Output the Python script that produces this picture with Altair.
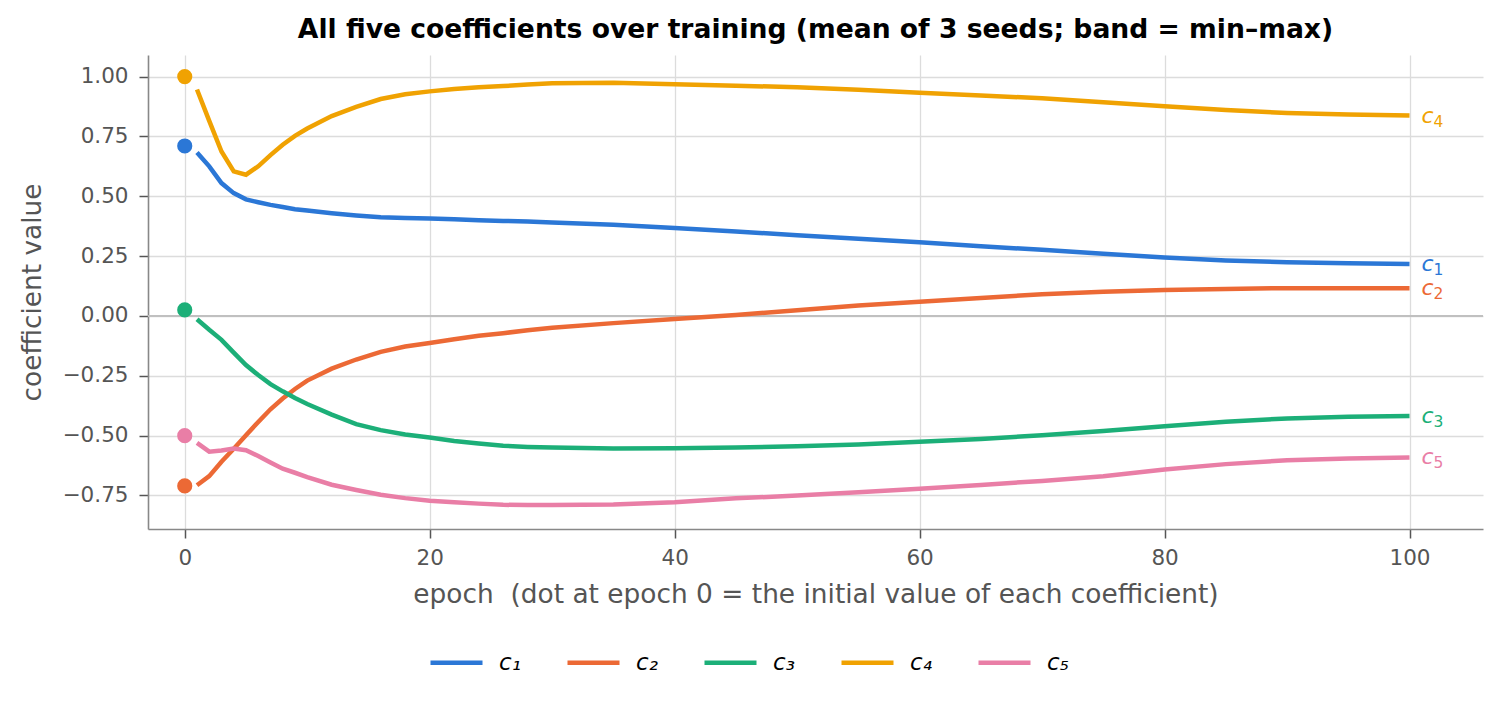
import altair as alt
import pandas as pd

# ---- data ----
SERIES = ["c₁", "c₂", "c₃", "c₄", "c₅"]
SUBS = ["1", "2", "3", "4", "5"]
COLORS = ["#2b77d6", "#ec6935", "#1caf78", "#f0a202", "#e97ea6"]

EPOCHS = [1, 2, 3, 4, 5, 6, 7, 8, 9, 10, 12, 14, 16, 18, 20, 22, 24, 26, 28, 30,
          35, 40, 45, 50, 55, 60, 65, 70, 75, 80, 85, 90, 95, 100]

C1 = [0.683, 0.625, 0.555, 0.513, 0.487, 0.475, 0.464, 0.455, 0.446, 0.440,
      0.429, 0.420, 0.412, 0.409, 0.407, 0.404, 0.400, 0.397, 0.394, 0.390,
      0.381, 0.367, 0.353, 0.337, 0.322, 0.308, 0.291, 0.276, 0.260, 0.244,
      0.232, 0.224, 0.220, 0.217]
C2 = [-0.707, -0.669, -0.609, -0.555, -0.498, -0.443, -0.390, -0.345, -0.305, -0.270,
      -0.220, -0.182, -0.150, -0.128, -0.113, -0.097, -0.083, -0.072, -0.060, -0.049,
      -0.030, -0.013, 0.004, 0.024, 0.044, 0.059, 0.075, 0.091, 0.101, 0.108,
      0.113, 0.116, 0.116, 0.116]
C3 = [-0.014, -0.058, -0.100, -0.153, -0.205, -0.247, -0.285, -0.315, -0.343, -0.368,
      -0.412, -0.452, -0.477, -0.495, -0.508, -0.522, -0.533, -0.542, -0.547, -0.550,
      -0.554, -0.553, -0.550, -0.544, -0.537, -0.526, -0.514, -0.498, -0.481, -0.461,
      -0.442, -0.428, -0.421, -0.418]
C4 = [0.946, 0.815, 0.687, 0.604, 0.590, 0.625, 0.672, 0.715, 0.752, 0.783,
      0.835, 0.873, 0.906, 0.926, 0.938, 0.948, 0.955, 0.960, 0.967, 0.972,
      0.974, 0.968, 0.962, 0.955, 0.945, 0.932, 0.921, 0.909, 0.893, 0.876,
      0.860, 0.848, 0.841, 0.837]
C5 = [-0.530, -0.567, -0.562, -0.554, -0.561, -0.585, -0.612, -0.638, -0.655, -0.673,
      -0.705, -0.727, -0.747, -0.761, -0.772, -0.778, -0.784, -0.789, -0.790, -0.790,
      -0.788, -0.778, -0.762, -0.750, -0.736, -0.722, -0.706, -0.689, -0.670, -0.641,
      -0.619, -0.603, -0.595, -0.591]
INITIAL = [0.71, -0.71, 0.025, 1.00, -0.50]

X_TICKS = [0, 20, 40, 60, 80, 100]
Y_TICKS = [-0.75, -0.5, -0.25, 0.0, 0.25, 0.5, 0.75, 1.0]

# ---- tables ----
rows = []
for name, vals in zip(SERIES, [C1, C2, C3, C4, C5]):
    for e, v in zip(EPOCHS, vals):
        rows.append({"series": name, "epoch": e, "value": v})
lines_df = pd.DataFrame(rows)
init_df = pd.DataFrame({"series": SERIES, "epoch": [0] * 5, "value": INITIAL})
end_df = lines_df[lines_df["epoch"] == EPOCHS[-1]].copy().reset_index(drop=True)
end_df["sub"] = SUBS
end_df["c"] = "c"
zero_df = pd.DataFrame({"value": [0.0]})

FONT = "DejaVu Sans"
X_DOMAIN = [-3, 106]
Y_DOMAIN = [-0.89, 1.09]

x_enc = alt.X("epoch:Q",
              scale=alt.Scale(domain=X_DOMAIN, nice=False, zero=False),
              axis=alt.Axis(values=X_TICKS, format="d",
                            title="epoch \u00a0(dot at epoch 0 = the initial value of each coefficient)"))
y_enc = alt.Y("value:Q",
              scale=alt.Scale(domain=Y_DOMAIN, nice=False, zero=False),
              axis=alt.Axis(values=Y_TICKS, format=".2f", title="coefficient value"))
color_scale = alt.Scale(domain=SERIES, range=COLORS)

zero = alt.Chart(zero_df).mark_rule(color="#c0c0c0", strokeWidth=2).encode(
    y=alt.Y("value:Q", scale=alt.Scale(domain=Y_DOMAIN, nice=False, zero=False))
)

lines = alt.Chart(lines_df).mark_line(strokeWidth=4.5).encode(
    x=x_enc, y=y_enc,
    color=alt.Color("series:N", scale=color_scale,
                    legend=alt.Legend(title=None, orient="none", direction="horizontal",
                                      columns=5, legendX=280, legendY=579,
                                      symbolType="stroke", symbolSize=2704,
                                      symbolStrokeWidth=4.5, labelOffset=14,
                                      columnPadding=37, labelFontSize=23,
                                      labelFontStyle="italic", labelColor="#000000",
                                      labelFont=FONT, labelLimit=0)),
)

dots = alt.Chart(init_df).mark_circle(size=230, opacity=1).encode(
    x="epoch:Q", y="value:Q",
    color=alt.Color("series:N", scale=color_scale, legend=None),
)

label_c = alt.Chart(end_df).mark_text(align="left", baseline="middle", dx=12, dy=0,
                                      fontSize=22, fontStyle="italic", font=FONT).encode(
    x="epoch:Q", y="value:Q", text="c:N",
    color=alt.Color("series:N", scale=color_scale, legend=None),
)
label_sub = alt.Chart(end_df).mark_text(align="left", baseline="middle", dx=24, dy=6,
                                        fontSize=15.5, font=FONT).encode(
    x="epoch:Q", y="value:Q", text="sub:N",
    color=alt.Color("series:N", scale=color_scale, legend=None),
)

chart = alt.layer(zero, lines, dots, label_c, label_sub).properties(
    width=1335, height=474,
    autosize=alt.AutoSizeParams(type="none"),
    padding={"left": 140, "top": 47, "right": 10, "bottom": 160},
    title=alt.TitleParams("All five coefficients over training (mean of 3 seeds; band = min–max)",
                          fontSize=26.6, fontWeight="bold", font=FONT, color="#000000",
                          anchor="middle", baseline="alphabetic", offset=0, dy=10),
).configure_view(strokeWidth=0).configure_axis(
    labelFont=FONT, titleFont=FONT, labelFontSize=21.5, titleFontSize=26.4,
    labelColor="#555555", titleColor="#555555", titleFontWeight="normal",
    gridColor="#dcdcdc", gridWidth=1.3, domainColor="#888888", domainWidth=1.6,
    tickColor="#555555", tickWidth=1.5, tickSize=9,
).configure_axisX(labelPadding=9, titlePadding=13).configure_axisY(
    labelPadding=11, titlePadding=16)

chart.save("out.html", embed_options={"renderer": "svg", "actions": False})
